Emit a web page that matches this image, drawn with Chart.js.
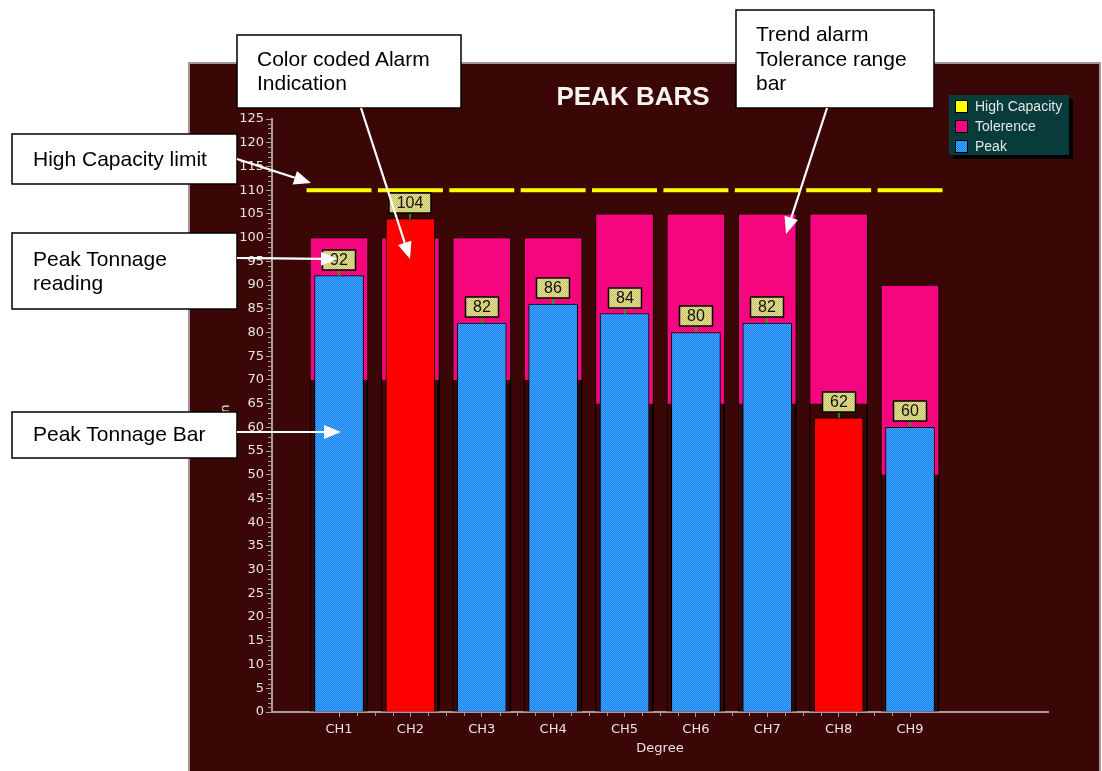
<!DOCTYPE html>
<html>
<head>
<meta charset="utf-8">
<script src="https://cdn.jsdelivr.net/npm/chart.js@4.4.1/dist/chart.umd.min.js"></script>
<style>
  body { margin: 0; background: #fff; width: 1102px; height: 771px; overflow: hidden; position: relative; }
  #panel { position: absolute; left: 188px; top: 62px; width: 914px; height: 709px; }
  #notas { position: absolute; left: 0; top: 0; pointer-events: none; }
</style>
</head>
<body>
<div id="panel"><canvas id="myChart" width="914" height="709"></canvas></div>
<svg id="notas" width="1102" height="771" xmlns="http://www.w3.org/2000/svg"
     font-family="Liberation Sans, Arial, sans-serif" font-size="21">
  <g id="cajas" fill="#fff" stroke="#000" stroke-width="1.5">
    <rect x="12" y="134" width="225" height="50"/>
    <rect x="12" y="233" width="225" height="76"/>
    <rect x="12" y="412" width="225" height="46"/>
    <rect x="237" y="35" width="224" height="73"/>
    <rect x="736" y="10" width="198" height="98"/>
  </g>
  <g fill="#000" dominant-baseline="central">
    <text x="33" y="158">High Capacity limit</text>
    <text x="33" y="258">Peak Tonnage</text>
    <text x="33" y="282">reading</text>
    <text x="33" y="433">Peak Tonnage Bar</text>
    <text x="257" y="58">Color coded Alarm</text>
    <text x="257" y="82">Indication</text>
    <text x="756" y="33">Trend alarm</text>
    <text x="756" y="58">Tolerance range</text>
    <text x="756" y="82">bar</text>
  </g>
  <g id="flechas"></g>
</svg>

<script>
// Datos del gráfico
const categorias = ['CH1', 'CH2', 'CH3', 'CH4', 'CH5', 'CH6', 'CH7', 'CH8', 'CH9'];
const picos = [92, 104, 82, 86, 84, 80, 82, 62, 60];
const toleranciaMin = [70, 70, 70, 70, 65, 65, 65, 65, 50];
const toleranciaMax = [100, 100, 100, 100, 105, 105, 105, 105, 90];
const capacidadAlta = [110, 110, 110, 110, 110, 110, 110, 110, 110];
const etiquetasLeyenda = ['High Capacity', 'Tolerence', 'Peak'];
const yMin = 0, yMax = 125, yPaso = 5;

// Colores
const colorFondo = '#3a0606';
const colorEje = '#a89c9c';
const colorTexto = '#ece2e2';

const ctx = document.getElementById('myChart').getContext('2d');

// Trama tipo "dither" de 2x2
function trama(c1, c2) {
    const p = document.createElement('canvas');
    p.width = 2; p.height = 2;
    const g = p.getContext('2d');
    g.fillStyle = c1; g.fillRect(0, 0, 2, 2);
    g.fillStyle = c2; g.fillRect(0, 0, 1, 1); g.fillRect(1, 1, 1, 1);
    return ctx.createPattern(p, 'repeat');
}

const azul = trama('#127ef0', '#46a8ff');
const rosa = trama('#ff0a86', '#ee0076');
const amarilloEtiqueta = trama('#e6e294', '#c6c06a');

// Rojo cuando el pico queda fuera del rango de tolerancia
const coloresPico = picos.map((v, i) => (v > toleranciaMax[i] || v < toleranciaMin[i]) ? '#ff0000' : azul);

// Fondo del panel
const fondoPlugin = {
    id: 'fondo',
    beforeDraw(chart) {
        const c = chart.ctx;
        c.save();
        c.fillStyle = colorFondo;
        c.fillRect(0, 0, chart.width, chart.height);
        c.fillStyle = '#fff';
        c.fillRect(913, 0, 2, chart.height);
        c.strokeStyle = '#a89494';
        c.lineWidth = 2;
        c.beginPath();
        c.moveTo(1, chart.height); c.lineTo(1, 1); c.lineTo(912, 1); c.lineTo(912, chart.height);
        c.stroke();
        c.restore();
    }
};

// Marcas menores, etiquetas de valor, título y leyenda
const extrasPlugin = {
    id: 'extras',
    afterDatasetsDraw(chart) {
        const c = chart.ctx;
        const xs = chart.scales.x, ys = chart.scales.y;
        c.save();

        // marcas menores eje Y
        c.strokeStyle = colorEje;
        c.lineWidth = 1;
        c.beginPath();
        for (let v = yMin; v <= yMax; v++) {
            if (v % yPaso === 0) continue;
            const y = Math.round(ys.getPixelForValue(v)) + 0.5;
            c.moveTo(xs.left - 4, y); c.lineTo(xs.left, y);
        }
        // marcas menores eje X
        for (let v = 1; v <= categorias.length; v += 0.25) {
            if (Number.isInteger(v)) continue;
            const x = Math.round(xs.getPixelForValue(v)) + 0.5;
            c.moveTo(x, ys.bottom); c.lineTo(x, ys.bottom + 4);
        }
        c.stroke();

        // etiquetas de valor sobre cada pico
        const meta = chart.getDatasetMeta(chart.data.datasets.findIndex(d => d.label === 'Peak'));
        c.font = '16px "Liberation Sans", Arial, sans-serif';
        c.textAlign = 'center';
        c.textBaseline = 'middle';
        meta.data.forEach((bar, i) => {
            const txt = String(picos[i]);
            const w = Math.round(c.measureText(txt).width + 15);
            const h = 20;
            const x = Math.round(bar.x);
            const top = Math.round(bar.y);
            c.strokeStyle = '#00c000';
            c.lineWidth = 1.5;
            c.beginPath(); c.moveTo(x, top); c.lineTo(x, top - 6); c.stroke();
            c.fillStyle = amarilloEtiqueta;
            c.fillRect(x - w / 2, top - 6 - h, w, h);
            c.strokeStyle = '#000';
            c.lineWidth = 1.5;
            c.strokeRect(x - w / 2, top - 6 - h, w, h);
            c.fillStyle = '#111';
            c.fillText(txt, x, top - 6 - h / 2 + 1);
        });

        // título
        c.fillStyle = '#f6f2f2';
        c.font = 'bold 26px "Liberation Sans", Arial, sans-serif';
        c.fillText('PEAK BARS', 445, 36);

        // leyenda
        const lx = 761, ly = 33, lw = 120, lh = 60;
        c.fillStyle = '#000';
        c.fillRect(lx + 4, ly + 4, lw, lh);
        c.fillStyle = '#073c3a';
        c.fillRect(lx, ly, lw, lh);
        const muestras = ['#ffff00', rosa, azul];
        c.font = '14px "Liberation Sans", Arial, sans-serif';
        c.textAlign = 'left';
        etiquetasLeyenda.forEach((t, i) => {
            const cy = ly + 11 + i * 20;
            c.fillStyle = muestras[i];
            c.fillRect(lx + 6, cy - 6, 13, 13);
            c.strokeStyle = '#000';
            c.lineWidth = 1;
            c.strokeRect(lx + 6.5, cy - 5.5, 12, 12);
            c.fillStyle = '#e6e6e6';
            c.fillText(t, lx + 26, cy + 1);
        });
        c.restore();
    }
};

const fuenteEje = { family: 'DejaVu Sans', size: 13 };

myChart = new Chart(ctx, {
    type: 'bar',
    data: {
        datasets: [
            {
                type: 'line',
                label: 'High Capacity',
                data: capacidadAlta.flatMap((v, i) => [
                    { x: i + 1 - 0.455, y: v },
                    { x: i + 1 + 0.455, y: v },
                    { x: i + 1.5, y: null }
                ]),
                borderColor: '#ffff00',
                borderWidth: 4,
                borderCapStyle: 'butt',
                pointRadius: 0,
                spanGaps: false,
                order: 0
            },
            {
                label: 'Peak',
                data: picos.map((v, i) => ({ x: i + 1, y: v })),
                backgroundColor: coloresPico,
                borderColor: '#000',
                borderWidth: 1,
                barThickness: 49,
                grouped: false,
                order: 1
            },
            {
                label: 'Tolerence',
                data: toleranciaMin.map((v, i) => ({ x: i + 1, y: [v, toleranciaMax[i]] })),
                backgroundColor: rosa,
                borderColor: '#000',
                borderWidth: 1,
                barThickness: 58,
                grouped: false,
                order: 2
            },
            {
                label: 'base',
                data: toleranciaMin.map((v, i) => ({ x: i + 1, y: [0, v] })),
                backgroundColor: colorFondo,
                borderColor: '#000',
                borderWidth: { left: 1, right: 2, top: 0, bottom: 0 },
                barThickness: 58,
                grouped: false,
                order: 3
            }
        ]
    },
    options: {
        responsive: false,
        animation: false,
        layout: { padding: { left: 0, top: 57, right: 54, bottom: 0 } },
        plugins: {
            legend: { display: false },
            tooltip: { enabled: false }
        },
        scales: {
            x: {
                type: 'linear',
                offset: false,
                min: 0.061,
                max: 10.933,
                afterBuildTicks: s => { s.ticks = categorias.map((c, i) => ({ value: i + 1 })); },
                afterFit: s => { s.height = 59; },
                ticks: {
                    callback: v => categorias[v - 1] || '',
                    color: colorTexto,
                    font: fuenteEje,
                    padding: 5,
                    maxRotation: 0,
                    autoSkip: false
                },
                grid: { offset: false, drawOnChartArea: false, drawTicks: true, tickLength: 5, color: colorEje },
                border: { color: colorEje, width: 2 },
                title: { display: true, text: 'Degree', color: colorTexto, font: fuenteEje, padding: { top: 0, bottom: 15 } }
            },
            y: {
                min: yMin,
                max: yMax,
                afterFit: s => { s.width = 84; },
                ticks: { stepSize: yPaso, color: colorTexto, font: fuenteEje, padding: 2 },
                grid: { drawOnChartArea: false, drawTicks: true, tickLength: 6, color: colorEje },
                border: { color: colorEje, width: 2 },
                title: { display: true, text: 'Ton', color: colorTexto, font: fuenteEje, padding: { top: 30, bottom: 0 } }
            }
        }
    },
    plugins: [fondoPlugin, extrasPlugin]
});

// Flechas de las anotaciones
const flechas = [
    [237, 159, 311, 183],
    [237, 258, 338, 259],
    [237, 432, 341, 432],
    [361, 108, 410, 259],
    [827, 108, 786, 234]
];
const g = document.getElementById('flechas');
flechas.forEach(([x1, y1, x2, y2]) => {
    const ang = Math.atan2(y2 - y1, x2 - x1);
    const largo = 17, ancho = 7;
    const bx = x2 - largo * Math.cos(ang), by = y2 - largo * Math.sin(ang);
    const px = -Math.sin(ang) * ancho, py = Math.cos(ang) * ancho;
    g.innerHTML += `<line x1="${x1}" y1="${y1}" x2="${bx}" y2="${by}" stroke="#fff" stroke-width="2.2"/>` +
        `<polygon points="${x2},${y2} ${bx + px},${by + py} ${bx - px},${by - py}" fill="#fff"/>`;
});
</script>
</body>
</html>
